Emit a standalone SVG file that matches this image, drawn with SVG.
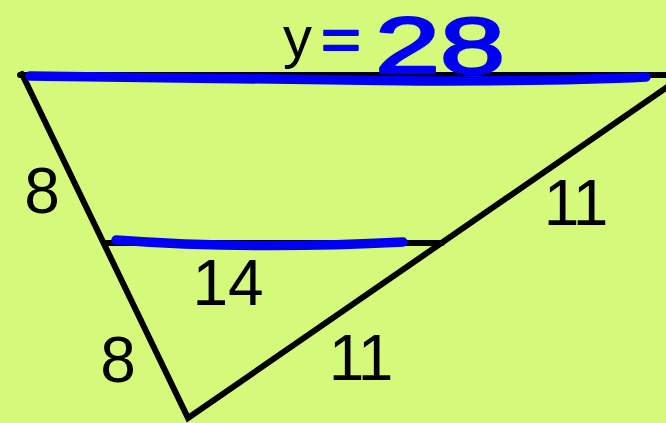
<svg xmlns="http://www.w3.org/2000/svg" width="666" height="423" viewBox="0 0 666 423">
<style>
.edge{stroke:#000;stroke-width:6;fill:none;stroke-linecap:round;stroke-linejoin:miter}
.hl{stroke:#0000f5;stroke-width:9.5;fill:none;stroke-linecap:round}
.lbl{font-family:"Liberation Sans",Arial,sans-serif;font-size:64px;fill:#000;text-anchor:middle}
.ans{font-family:"Liberation Sans",Arial,sans-serif;fill:#0000f5;stroke:#0000f5;stroke-linejoin:round}
</style>
<rect width="666" height="423" fill="#d5f97b"/>
<g id="triangle">
<path class="edge" d="M22 74 L188 418 L692 70"/>
<line class="edge" x1="20" y1="75" x2="670" y2="75"/>
<line class="edge" x1="106" y1="243" x2="442" y2="243"/>
</g>
<g id="highlights">
<path class="hl" d="M30 76 Q200 79 420 81 Q560 81 646 77"/>
<path class="hl" d="M116 240 Q250 250 403 242"/>
</g>
<g id="labels">
<text class="lbl" x="42" y="213">8</text>
<text class="lbl" x="118" y="382">8</text>
<text class="lbl" x="228" y="305">14</text>
<text class="lbl" x="575" y="225" letter-spacing="-2">11</text>
<text class="lbl" x="360" y="380" letter-spacing="-2">11</text>
</g>
<g id="answer">
<text x="283" y="57" font-family="Liberation Sans,Arial,sans-serif" font-size="58" fill="#000">y</text>
<text class="ans" x="321" y="60" font-size="60" stroke-width="2" textLength="40" lengthAdjust="spacingAndGlyphs">=</text>
<text class="ans" x="375" y="73" font-size="80" stroke-width="2.5" textLength="130" lengthAdjust="spacingAndGlyphs">28</text>
</g>
</svg>
